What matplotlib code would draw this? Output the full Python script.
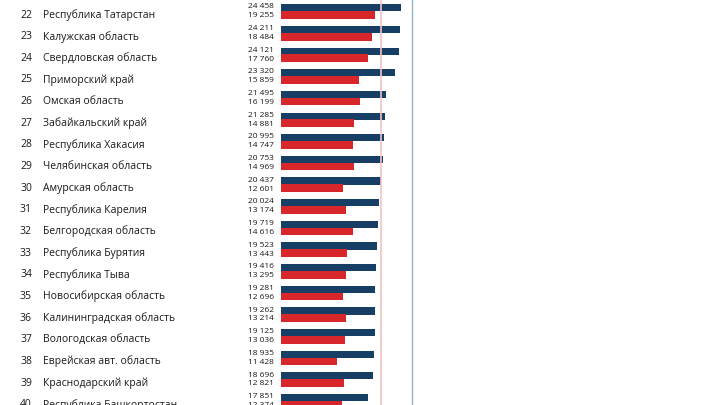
import matplotlib
matplotlib.use('Agg')
import matplotlib.pyplot as plt
import matplotlib.transforms as mtransforms

ranks = list(range(22, 41))
regions = [
    'Республика Татарстан', 'Калужская область', 'Свердловская область',
    'Приморский край', 'Омская область', 'Забайкальский край',
    'Республика Хакасия', 'Челябинская область', 'Амурская область',
    'Республика Карелия', 'Белгородская область', 'Республика Бурятия',
    'Республика Тыва', 'Новосибирская область', 'Калининградская область',
    'Вологодская область', 'Еврейская авт. область', 'Краснодарский край',
    'Республика Башкортостан',
]
blue_vals = [24458, 24211, 24121, 23320, 21495, 21285, 20995, 20753, 20437,
             20024, 19719, 19523, 19416, 19281, 19262, 19125, 18935, 18696,
             17851]
red_vals = [19255, 18484, 17760, 15859, 16199, 14881, 14747, 14969, 12601,
            13174, 14616, 13443, 13295, 12696, 13214, 13036, 11428, 12821,
            12374]
avg_line = 20500
edge_line = 26800

BLUE = '#173f66'
RED = '#d8272a'

plt.rcParams['font.family'] = ['Open Sans', 'DejaVu Sans']

fig = plt.figure(figsize=(7.2, 4.05), dpi=100)
x0 = 281 / 720
scale = 0.0049  # px per unit
ax = fig.add_axes([x0, 0, 1 - x0, 1])
ax.set_xlim(0, (720 - 281) / scale)
ax.set_ylim((405 - 15) / 21.65, -15 / 21.65)
ax.axis('off')

ys = list(range(len(ranks)))
ax.barh([y - 0.33 for y in ys], blue_vals, height=0.33, color=BLUE, zorder=2)
ax.barh(ys, red_vals, height=0.36, color=RED, zorder=2)
ax.axvline(avg_line, color='#f4c4c2', lw=1.2, zorder=3)
ax.axvline(edge_line, color='#8fb4c4', lw=1.0, zorder=1)

lab = mtransforms.blended_transform_factory(fig.transFigure, ax.transData)
for y, r, name, b, rd in zip(ys, ranks, regions, blue_vals, red_vals):
    fig.text(32 / 720, y, str(r), transform=lab, ha='right', va='center',
             fontsize=7.5, color='#1a1a1a')
    fig.text(43 / 720, y, name, transform=lab, ha='left', va='center',
             fontsize=7.5, color='#1a1a1a')
    fig.text(274 / 720, y - 0.37, f'{b:,}'.replace(',', ' '), transform=lab,
             ha='right', va='center', fontsize=6.0, color='#1a1a1a')
    fig.text(274 / 720, y + 0.04, f'{rd:,}'.replace(',', ' '), transform=lab,
             ha='right', va='center', fontsize=6.0, color='#1a1a1a')

fig.savefig('out.png', dpi=100)
